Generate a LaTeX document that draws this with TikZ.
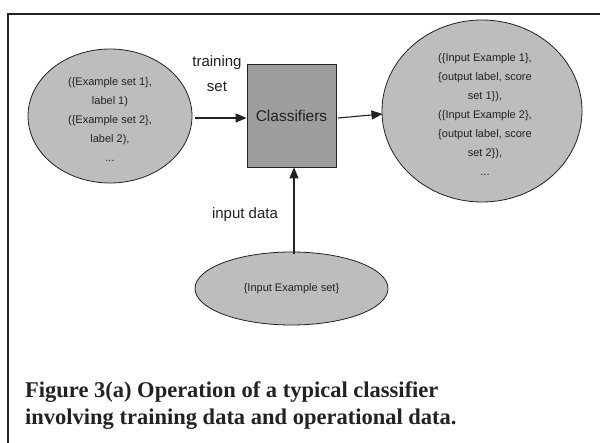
\documentclass[tikz,border=0pt]{standalone}
\usepackage{fontspec}
\setmainfont{Liberation Serif}
\newfontfamily\arialf{Liberation Sans}
\usetikzlibrary{shapes.geometric,arrows.meta}
\definecolor{ellfill}{HTML}{BDBDBD}
\definecolor{boxfill}{HTML}{9E9E9E}
\definecolor{ink}{HTML}{222222}
\begin{document}
\begin{tikzpicture}[x=1pt,y=-1pt,
  ell/.style={draw=ink,line width=0.8pt,fill=ellfill,ellipse,inner sep=0pt},
  inner/.style={font=\arialf\fontsize{11}{19}\selectfont,align=center,text=ink,inner sep=0pt},
  lbl/.style={font=\arialf\fontsize{15}{25}\selectfont,align=center,text=ink,inner sep=0pt},
  conn/.style={draw=ink,line width=1.1pt,-{Triangle[length=11pt,width=9pt]}}]
\useasboundingbox[fill=white] (0,0) rectangle (600,443);
\coordinate (frtop) at (600,14);
\coordinate (frcorner) at (8,14);
\coordinate (frbot) at (8,443);
\draw[ink,line width=1.3pt] (frtop) -- (frcorner) -- (frbot);
% shapes
\node[ell,minimum width=164pt,minimum height=134pt] (train) at (110,116) {};
\node[draw=ink,line width=0.8pt,fill=boxfill,minimum width=89pt,minimum height=103pt,inner sep=0pt] (cls) at (291.5,115.5) {};
\node[ell,minimum width=200pt,minimum height=182pt] (out) at (482,111) {};
\node[ell,minimum width=193pt,minimum height=73pt] (inp) at (291.5,288.5) {};
% texts
\node[inner] (traintxt) at (110,120) {(\{Example set 1\},\\label 1)\\(\{Example set 2\},\\label 2),\\...};
\node[font=\arialf\fontsize{15.5}{17}\selectfont,text=ink,inner sep=0pt] (clstxt) at (cls.center) {Classifiers};
\node[inner] (outtxt) at (485,115) {(\{Input Example 1\},\\\{output label, score\\set 1\}),\\(\{Input Example 2\},\\\{output label, score\\set 2\}),\\...};
\node[inner] (inptxt) at (inp.center) {\{Input Example set\}};
\node[lbl] (tslbl) at (217,74) {training\\set};
\node[lbl] (idlbl) at (245,215) {input data};
% connectors
\draw[conn] (train.east |- 0,118) ++(3,0) coordinate (a1) -- (cls.west |- a1);
\coordinate (a2s) at (338,118);
\coordinate (a2e) at (382.5,114);
\draw[conn] (a2s) -- (a2e);
\coordinate (a3s) at (294,254);
\draw[conn] (a3s) -- (cls.south -| a3s);
% caption
\node[font=\fontsize{22.5}{27}\selectfont\bfseries,align=left,anchor=north west,inner sep=0pt,text=ink] (cap) at (25,381) {Figure 3(a) Operation of a typical classifier\\involving training data and operational data.};
\end{tikzpicture}
\end{document}
